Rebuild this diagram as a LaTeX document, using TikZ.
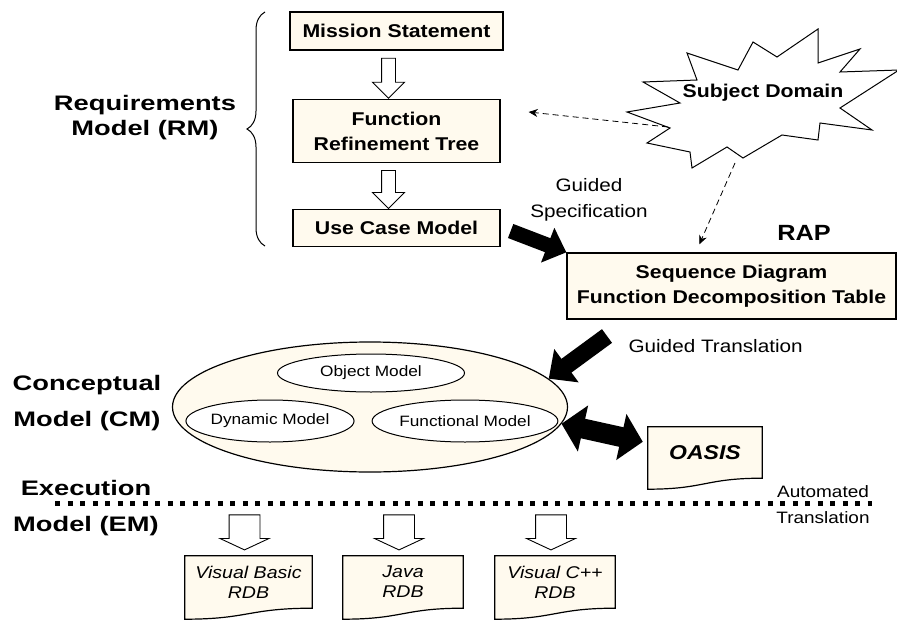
\documentclass[tikz,border=0pt]{standalone}
\usepackage{fontspec}
\setmainfont{Liberation Sans}[FakeStretch=1.15]
\newfontfamily\sidefont{Liberation Sans}[FakeStretch=1.3]
\usetikzlibrary{arrows.meta,shapes.geometric,shapes.arrows,decorations.pathreplacing,backgrounds,calc,positioning}
\definecolor{boxcream}{RGB}{255,250,238}
\tikzset{
  box/.style={draw, line width=1.3pt, fill=boxcream, align=center, inner sep=0pt,
    font=\fontsize{18.5}{25}\selectfont\bfseries},
  sidelabel/.style={align=center, font=\sidefont\fontsize{21}{25}\selectfont\bfseries},
  plainlabel/.style={align=center, font=\fontsize{18}{26}\selectfont},
  inner ell/.style={ellipse, draw, line width=1pt, fill=white, inner sep=0pt,
    font=\fontsize{15}{18}\selectfont},
  hollowarrow/.style={single arrow, draw, line width=0.9pt, fill=white, inner sep=0pt,
    text depth=0pt, rotate=-90, single arrow head extend=9pt},
  fatarrow/.style={line width=15pt, -{Triangle[length=20pt,width=36pt]}},
  hint/.style={dash pattern=on 6pt off 4pt, line width=0.8pt, -{Stealth[length=9pt,width=8pt]}},
  doc/.style={align=center, inner sep=0pt, minimum height=52pt,
    font=\fontsize{17}{20}\selectfont\itshape},
  docline/.style={draw, line width=1.2pt, fill=boxcream},
}
\begin{document}
\begin{tikzpicture}[x=1pt, y=-1pt]
\useasboundingbox (0,0) rectangle (897,621);
% requirements model
\node[box, minimum width=213pt, minimum height=38pt] (ms) at (396.5,31) {Mission Statement};
\node[box, minimum width=207pt, minimum height=63pt] (frt) at (396.5,131) {Function\\Refinement Tree};
\node[box, minimum width=207pt, minimum height=37pt] (ucm) at (396.5,228) {Use Case Model};
\node[hollowarrow, minimum height=40pt, text height=13pt] (a1) at ($(ms.south)!0.5!(frt.north)+(-8,0)$) {};
\node[hollowarrow, minimum height=38pt, text height=13pt] (a2) at ($(frt.south)!0.5!(ucm.north)+(-8,0)$) {};
\draw[line width=1pt, decorate, decoration={brace, amplitude=18pt}] (265,246) -- (265,12);
\node[sidelabel] (rmlabel) at (145,118) {Requirements\\Model (RM)};
% subject domain
\filldraw[fill=white, line width=1pt] (687,53) -- (697,80) -- (643,82) -- (680,103) -- (627,112)
  -- (670,128) -- (647,143) -- (690,152) -- (692,168) -- (727,147) -- (743,158) -- (782,135)
  -- (818,140) -- (820,123) -- (872,130) -- (840,108) -- (899,70) -- (840,72) -- (860,49)
  -- (818,63) -- (818,29) -- (777,57) -- (753,42) -- (738,70) -- cycle;
\node[font=\fontsize{18.5}{22}\selectfont\bfseries] (sd) at (763,93) {Subject Domain};
\coordinate (sdleft) at (668,127);
\coordinate (sdbottom) at (735,163);
% rap
\node[box, minimum width=329pt, minimum height=66pt] (rap) at (731.5,286) {Sequence Diagram\\Function Decomposition Table};
\node[font=\fontsize{22}{26}\selectfont\bfseries] (raplabel) at (804,233) {RAP};
\node[plainlabel] (gs) at (589,200) {Guided\\Specification};
\coordinate (gsstart) at ($(ucm.east)+(10,3)$);
\draw[fatarrow] (gsstart) -- (rap.north west);
\draw[hint] (sdleft) -- ($(frt.east)+(28,-19)$) coordinate (frthint);
\draw[hint] (sdbottom) -- ($(rap.north west)+(133,-8)$) coordinate (raphint);
% conceptual model
\node[ellipse, draw, line width=1.2pt, fill=boxcream, minimum width=395pt, minimum height=130pt] (cm) at (370,407) {};
\node[inner ell, minimum width=187pt, minimum height=38pt] (om) at (371,373) {Object Model};
\node[inner ell, minimum width=165pt, minimum height=42pt] (dm) at (270,421) {Dynamic Model};
\node[inner ell, minimum width=175pt, minimum height=42pt] (fm) at (465,421) {Functional Model};
\node[sidelabel, font=\sidefont\fontsize{21}{36}\selectfont\bfseries] (cmlabel) at (87,403) {Conceptual\\Model (CM)};
\node[plainlabel, anchor=west] (gt) at (625,346) {Guided Translation};
\coordinate (gtstart) at ($(gt.west)+(-18,-10)$);
\draw[fatarrow, line width=17pt, -{Triangle[length=22pt,width=40pt]}] (gtstart) -- (cm.9);
% oasis
\node[doc, minimum width=114pt, minimum height=51pt, font=\fontsize{20}{24}\selectfont\bfseries\itshape] (oasis) at (705,452.5) {OASIS};
\coordinate (oasisin) at ($(oasis.north west)+(-5,15)$);
\draw[line width=20pt, {Triangle[length=22pt,width=46pt]}-{Triangle[length=22pt,width=46pt]}] (cm.-5) -- (oasisin);
% execution model
\node[sidelabel, font=\sidefont\fontsize{21}{36}\selectfont\bfseries] (emlabel) at (86,508) {Execution\\Model (EM)};
\coordinate (dotl) at (55,503);
\coordinate (dotr) at (872,503);
\draw[line width=5pt, dash pattern=on 5pt off 7.5pt] (dotl) -- (dotr);
\node[align=center, font=\fontsize{16.5}{26}\selectfont] (at) at (823,505) {Automated\\Translation};
\foreach \nm/\cx/\w/\txt in {vb/248.5/127/Visual Basic, java/403/120/Java, vcpp/555/120/Visual C++} {
  \node[doc, minimum width=\w pt] (\nm) at (\cx,582) {\txt\\RDB};
  \node[hollowarrow, minimum height=35pt, text height=30pt, single arrow tip angle=130] (to\nm) at ($(\nm.north)+(-4,-27)$) {};
}
\begin{scope}[on background layer]
\foreach \nm in {oasis,vb,java,vcpp}
  \draw[docline] (\nm.north west) -- (\nm.north east) -- (\nm.south east)
    .. controls (\nm.south) and ($(\nm.south)+(0,11)$) .. ($(\nm.south west)+(0,11)$) -- cycle;
\end{scope}
\end{tikzpicture}
\end{document}
